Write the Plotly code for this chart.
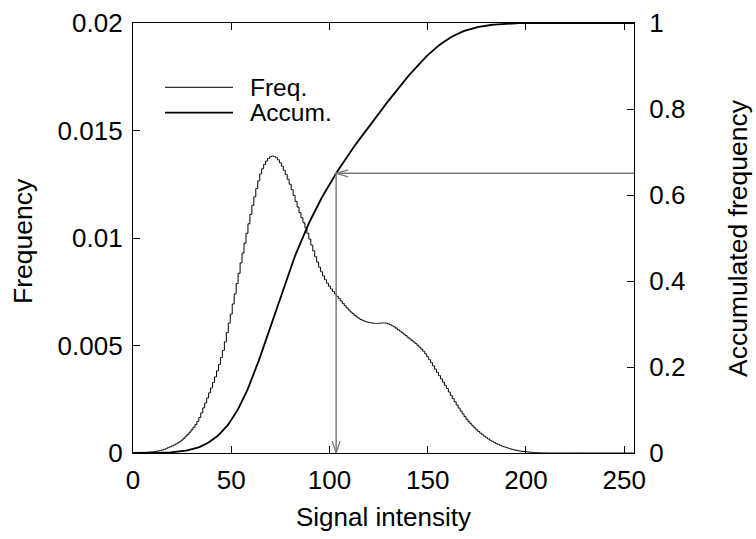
import numpy as np
import plotly.graph_objects as go

# ---------------- data ----------------
intensity = list(range(256))

freq = [
    # 0-19
    0, 0, 0, 0.000003, 0.000005, 0.00001, 0.000015, 0.00002, 0.00003, 0.00004,
    0.00005, 0.00007, 0.00008, 0.0001, 0.00012, 0.00014, 0.00017, 0.0002, 0.00025, 0.00029,
    # 20-39
    0.00033, 0.00037, 0.00042, 0.00047, 0.00053, 0.0006, 0.00068, 0.00078, 0.00087, 0.00097,
    0.00108, 0.0012, 0.00132, 0.00147, 0.00165, 0.00187, 0.0021, 0.00233, 0.00256, 0.0028,
    # 40-59
    0.00303, 0.00328, 0.00354, 0.00382, 0.00412, 0.00444, 0.00477, 0.00517, 0.0056, 0.00604,
    0.00646, 0.00693, 0.0074, 0.00788, 0.00836, 0.00884, 0.0093, 0.00976, 0.01022, 0.01066,
    # 60-79
    0.0111, 0.01152, 0.01192, 0.0123, 0.01266, 0.01298, 0.01322, 0.01342, 0.01358, 0.0137,
    0.01378, 0.01381, 0.0138, 0.01374, 0.01364, 0.0135, 0.01334, 0.01315, 0.01296, 0.01273,
    # 80-99
    0.0125, 0.01225, 0.01198, 0.0117, 0.01144, 0.01118, 0.01094, 0.01071, 0.01048, 0.01022,
    0.00995, 0.00967, 0.0094, 0.00913, 0.00888, 0.00864, 0.00843, 0.00824, 0.00806, 0.0079,
    # 100-119
    0.00776, 0.00763, 0.00751, 0.0074, 0.00729, 0.00718, 0.00707, 0.00696, 0.00685, 0.00675,
    0.00665, 0.00656, 0.00648, 0.0064, 0.00633, 0.00627, 0.00621, 0.00617, 0.00613, 0.0061,
    # 120-139
    0.00608, 0.00606, 0.00604, 0.00603, 0.00603, 0.00603, 0.00604, 0.00605, 0.00605, 0.00604,
    0.00601, 0.00597, 0.00592, 0.00587, 0.00581, 0.00574, 0.00567, 0.0056, 0.00553, 0.00546,
    # 140-159
    0.00538, 0.00531, 0.00524, 0.00517, 0.00509, 0.00501, 0.00492, 0.00483, 0.00473, 0.00461,
    0.00448, 0.00434, 0.0042, 0.00405, 0.0039, 0.00375, 0.0036, 0.00345, 0.0033, 0.00315,
    # 160-179
    0.003, 0.00284, 0.00268, 0.00253, 0.00238, 0.00223, 0.00209, 0.00195, 0.00182, 0.00169,
    0.00157, 0.00146, 0.00136, 0.00126, 0.00117, 0.00108, 0.001, 0.00092, 0.00085, 0.00078,
    # 180-199
    0.00071, 0.00065, 0.00059, 0.00054, 0.00049, 0.00044, 0.0004, 0.00036, 0.00032, 0.00029,
    0.00026, 0.00023, 0.0002, 0.00017, 0.00015, 0.00013, 0.00011, 0.00009, 0.00008, 0.00007,
    # 200-219
    0.00006, 0.00005, 0.00004, 0.00003, 0.000025, 0.00002, 0.000015, 0.00001, 0.000008, 0.000006,
    0.000004, 0.000003, 0.000002, 0.000001, 0, 0, 0, 0, 0, 0,
    # 220-255
    0, 0, 0, 0, 0, 0, 0, 0, 0, 0,
    0, 0, 0, 0, 0, 0, 0, 0, 0, 0,
    0, 0, 0, 0, 0, 0, 0, 0, 0, 0,
    0, 0, 0, 0, 0, 0,
]

# accumulated frequency = running sum of the histogram
accum = np.cumsum(freq) / np.sum(freq)

threshold_intensity = 103.4   # marked by the arrows

x_ticks = [0, 50, 100, 150, 200, 250]
y1_ticks = [0, 0.005, 0.01, 0.015, 0.02]
y1_labels = ["0", "0.005", "0.01", "0.015", "0.02"]
y2_ticks = [0, 0.2, 0.4, 0.6, 0.8, 1]
y2_labels = ["0", "0.2", "0.4", "0.6", "0.8", "1"]

# ---------------- figure ----------------
FONT = "Liberation Sans, Arial, sans-serif"
FS = 26
FS_TITLE = 26.5
W, H = 756, 539
ML, MR, MT, MB = 133, 122, 23, 86
PW, PH = W - ML - MR, H - MT - MB
XMAX = 255

fig = go.Figure()
fig.add_trace(go.Scatter(
    x=intensity, y=freq, mode="lines", line=dict(color="black", width=1, shape="hvh"),
    name="Freq.", showlegend=False, yaxis="y"))
fig.add_trace(go.Scatter(
    x=intensity, y=accum, mode="lines", line=dict(color="black", width=1.8),
    name="Accum.", showlegend=False, yaxis="y2"))

# arrows
acc_at = float(np.interp(threshold_intensity, intensity, accum))
gray = "#7a7a7a"
ux = XMAX / PW      # data units per px (x)
uy = 1.0 / PH       # data units per px (y2)
shapes = [
    dict(type="line", xref="x", yref="y2", x0=XMAX, x1=threshold_intensity, y0=acc_at, y1=acc_at,
         line=dict(color=gray, width=1.5)),
    dict(type="line", xref="x", yref="y2", x0=threshold_intensity, x1=threshold_intensity, y0=acc_at, y1=0,
         line=dict(color=gray, width=1.5)),
    dict(type="path", xref="x", yref="y2",
         path=(f"M {threshold_intensity + 12*ux},{acc_at + 3.5*uy} L {threshold_intensity},{acc_at} "
               f"L {threshold_intensity + 12*ux},{acc_at - 3.5*uy}"),
         line=dict(color=gray, width=1.3)),
    dict(type="path", xref="x", yref="y2",
         path=(f"M {threshold_intensity - 4*ux},{12*uy} L {threshold_intensity},0 "
               f"L {threshold_intensity + 4*ux},{12*uy}"),
         line=dict(color=gray, width=1.3)),
]

# legend (drawn manually, gnuplot style)
def px_x(p):
    return (p - ML) / PW

def px_y(p):
    return 1 - (p - MT) / PH

legend_items = [("Freq.", 1.0, 87.3), ("Accum.", 1.8, 112.7)]
annotations = []
for label, lw, py in legend_items:
    shapes.append(dict(type="line", xref="paper", yref="paper", x0=px_x(165), x1=px_x(233),
                       y0=px_y(py), y1=px_y(py), line=dict(color="black", width=lw)))
    annotations.append(dict(xref="paper", yref="paper", x=px_x(248), y=px_y(py), text=label,
                            showarrow=False, xanchor="left", yanchor="middle",
                            font=dict(family=FONT, size=24.5, color="black")))

annotations += [
    dict(xref="paper", yref="paper", x=px_x(23), y=px_y(241), text="Frequency", textangle=-90,
         showarrow=False, xanchor="center", yanchor="middle",
         font=dict(family=FONT, size=FS_TITLE, color="black")),
    dict(xref="paper", yref="paper", x=px_x(738), y=px_y(238), text="Accumulated frequency",
         textangle=-90, showarrow=False, xanchor="center", yanchor="middle",
         font=dict(family=FONT, size=FS_TITLE, color="black")),
    dict(xref="paper", yref="paper", x=px_x(383), y=px_y(517), text="Signal intensity",
         showarrow=False, xanchor="center", yanchor="middle",
         font=dict(family=FONT, size=FS, color="black")),
]

axis_common = dict(showgrid=False, zeroline=False, showline=True, linecolor="black", linewidth=1.2,
                   ticks="inside", ticklen=7, tickwidth=1, tickcolor="black",
                   tickfont=dict(family=FONT, size=FS, color="black"))

fig.update_layout(
    width=W, height=H,
    margin=dict(l=ML, r=MR, t=MT, b=MB, autoexpand=False),
    paper_bgcolor="white", plot_bgcolor="white",
    showlegend=False,
    xaxis=dict(range=[0, XMAX], tickvals=x_ticks, mirror="ticks", ticklabelstandoff=4,
               **axis_common),
    yaxis=dict(range=[0, 0.02], tickvals=y1_ticks, ticktext=y1_labels, ticklabelstandoff=4,
               **axis_common),
    yaxis2=dict(range=[0, 1], tickvals=y2_ticks, ticktext=y2_labels, overlaying="y", side="right",
                ticklabelstandoff=9, **axis_common),
    shapes=shapes,
    annotations=annotations,
)

fig.write_html("out.html", config={"displayModeBar": False},
               post_script="document.body.style.margin='0';document.body.style.padding='0';")
